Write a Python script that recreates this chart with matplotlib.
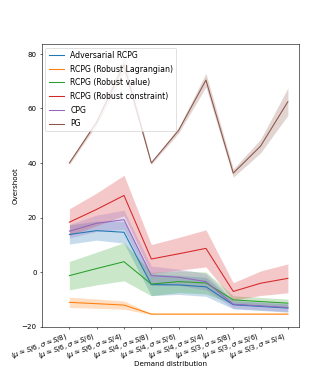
import matplotlib
matplotlib.use('Agg')
import matplotlib.pyplot as plt
import numpy as np

labels = [r'$(\mu \approx S/6,\sigma \approx S/8)$', r'$(\mu \approx S/6,\sigma \approx S/6)$',
          r'$(\mu \approx S/6,\sigma \approx S/4)$', r'$(\mu \approx S/4,\sigma \approx S/8)$',
          r'$(\mu \approx S/4,\sigma \approx S/6)$', r'$(\mu \approx S/4,\sigma \approx S/4)$',
          r'$(\mu \approx S/3,\sigma \approx S/8)$', r'$(\mu \approx S/3,\sigma \approx S/6)$',
          r'$(\mu \approx S/3,\sigma \approx S/4)$']

names = ['Adversarial RCPG', 'RCPG (Robust Lagrangian)', 'RCPG (Robust value)',
         'RCPG (Robust constraint)', 'CPG', 'PG']

adv_mean = [13.8, 15.2, 14.6, -4.6, -4.7, -5.4, -12.0, -12.6, -13.2]
adv_std = [3.5, 3.5, 4.0, 4.0, 3.5, 3.5, 1.5, 1.5, 1.5]
lag_mean = [-11.1, -11.6, -12.1, -15.4, -15.4, -15.4, -15.4, -15.4, -15.4]
lag_std = [1.9, 1.7, 1.5, 0.2, 0.2, 0.2, 0.2, 0.2, 0.2]
val_mean = [-1.3, 1.3, 3.8, -4.4, -3.5, -4.0, -10.2, -10.8, -11.4]
val_std = [5.2, 6.0, 7.0, 4.3, 4.0, 4.0, 1.5, 1.5, 1.5]
con_mean = [18.3, 23.0, 28.1, 4.8, 6.7, 8.7, -7.1, -4.1, -2.3]
con_std = [4.9, 6.0, 7.4, 5.3, 6.0, 6.8, 3.2, 4.5, 5.3]
cpg_mean = [15.0, 17.9, 19.2, -1.3, -1.9, -3.5, -11.8, -12.4, -13.0]
cpg_std = [2.5, 3.0, 3.5, 3.5, 3.0, 3.0, 1.5, 1.5, 1.5]
pg_mean = [40.0, 55.0, 76.0, 40.0, 52.0, 70.4, 36.3, 46.2, 62.5]
pg_std = [0.5, 1.0, 3.0, 0.5, 1.0, 2.5, 1.5, 2.5, 5.0]

means = [adv_mean, lag_mean, val_mean, con_mean, cpg_mean, pg_mean]
stds = [adv_std, lag_std, val_std, con_std, cpg_std, pg_std]

x = np.arange(len(labels))

plt.figure(figsize=(6.51, 7.2), dpi=51)
for i in range(len(names)):
    m = np.array(means[i])
    s = np.array(stds[i])
    plt.plot(x, m, color='C' + str(i), label=names[i])
    plt.fill_between(x, m - s, m + s, color='C' + str(i), alpha=0.25, lw=0)

plt.xticks(x, labels, rotation=20, ha='right')
plt.tick_params(axis='x', pad=2)
plt.xlim([-1.02, 8.4])
plt.ylim([-20, 83.7])
plt.xlabel('Demand distribution', labelpad=0)
plt.ylabel('Overshoot')
plt.legend(loc='upper left', fontsize=11, labelspacing=0.6)
plt.savefig('out.png', dpi=51)
